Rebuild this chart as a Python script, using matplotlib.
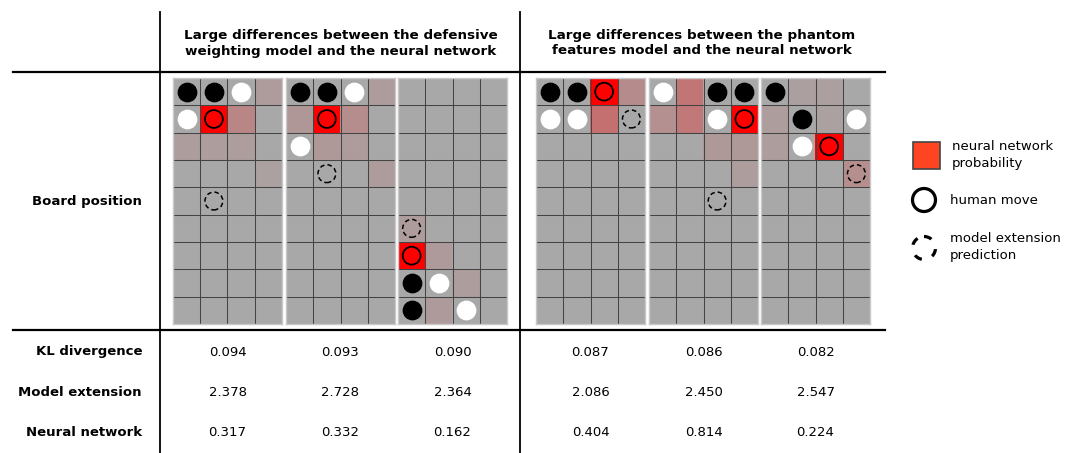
import numpy as np
import matplotlib
matplotlib.use('Agg')
from matplotlib import pyplot as plt
from matplotlib.patches import Rectangle, Circle

W, H = 1085, 453

# header texts for the two groups of boards
group_titles = ['Large differences between the defensive\nweighting model and the neural network',
                'Large differences between the phantom\nfeatures model and the neural network']
row_labels = ['KL divergence', 'Model extension', 'Neural network']

# table values, one column per board
kl_divergence = ['0.094', '0.093', '0.090', '0.087', '0.086', '0.082']
model_extension = ['2.378', '2.728', '2.364', '2.086', '2.450', '2.547']
neural_network = ['0.317', '0.332', '0.162', '0.404', '0.814', '0.224']

# stones on each board, 9 rows x 4 columns, top row first
stones = [
    ['BBW.', 'W...', '....', '....', '....', '....', '....', '....', '....'],
    ['BBW.', '....', 'W...', '....', '....', '....', '....', '....', '....'],
    ['....', '....', '....', '....', '....', '....', '....', 'BW..', 'B.W.'],
    ['BB..', 'WW..', '....', '....', '....', '....', '....', '....', '....'],
    ['W.BB', '..W.', '....', '....', '....', '....', '....', '....', '....'],
    ['B...', '.B.W', '.W..', '....', '....', '....', '....', '....', '....'],
]

# neural network probability shading (0 = grey, 1 = full red)
heat = [
    [[0, 0, 0, 0.07], [0, 1, 0.2, 0], [0.06, 0.06, 0.06, 0], [0, 0, 0, 0.04]],
    [[0, 0, 0, 0.07], [0.1, 1, 0.16, 0], [0, 0.09, 0.07, 0], [0, 0, 0, 0.07]],
    [[0, 0, 0, 0], [0, 0, 0, 0], [0, 0, 0, 0], [0, 0, 0, 0], [0, 0, 0, 0],
     [0.07, 0, 0, 0], [1, 0.08, 0, 0], [0, 0, 0.06, 0], [0, 0.08, 0, 0]],
    [[0, 0, 1, 0.17], [0, 0, 0.33, 0]],
    [[0, 0.3, 0, 0], [0.14, 0.28, 0, 1], [0, 0, 0.09, 0.09], [0, 0, 0, 0.06]],
    [[0, 0.05, 0.05, 0], [0.06, 0, 0.04, 0], [0.06, 0, 1, 0], [0, 0, 0, 0.15]],
]

# (row, col) of the human move and of the model extension prediction
human_move = [(1, 1), (1, 1), (6, 0), (0, 2), (1, 3), (2, 2)]
model_move = [(4, 1), (3, 1), (5, 0), (1, 3), (4, 2), (3, 3)]

board_left = [173, 286, 398, 536, 649, 761]
board_top, board_bottom, board_w = 78, 324, 109

grey = np.array([168, 168, 168]) / 255.0
red = np.array([255, 0, 0]) / 255.0

fig = plt.figure(figsize=(W / 100, H / 100), dpi=100)
ax = fig.add_axes([0, 0, 1, 1])
ax.set_xlim(0, W)
ax.set_ylim(H, 0)
ax.axis('off')

# table rules
ax.plot([13, 885], [72, 72], color='black', lw=1.6)
ax.plot([13, 885], [330, 330], color='black', lw=1.6)
ax.plot([160, 160], [12, H], color='black', lw=1.3)
ax.plot([520, 520], [12, H], color='black', lw=1.3)

font = 'DejaVu Sans'
ax.text(341, 43, group_titles[0], ha='center', va='center', fontsize=9.7,
        fontweight='bold', family=font, linespacing=1.3)
ax.text(702, 43, group_titles[1], ha='center', va='center', fontsize=9.7,
        fontweight='bold', family=font, linespacing=1.3)

ax.text(142, 201, 'Board position', ha='right', va='center', fontsize=9.5,
        fontweight='bold', family=font)
row_y = [352, 392, 432]
for label, y, vals in zip(row_labels, row_y, [kl_divergence, model_extension, neural_network]):
    ax.text(142, y, label, ha='right', va='center', fontsize=9.5, fontweight='bold', family=font)
    for i, v in enumerate(vals):
        ax.text(board_left[i] + board_w / 2, y, v, ha='center', va='center', fontsize=9.5, family=font)

# boards
for i in range(6):
    bax = fig.add_axes([board_left[i] / W, 1 - board_bottom / H,
                        board_w / W, (board_bottom - board_top) / H])
    p = np.zeros((9, 4))
    for r, row in enumerate(heat[i]):
        p[r, :] = row
    img = grey[None, None, :] * (1 - p[:, :, None]) + red[None, None, :] * p[:, :, None]
    bax.imshow(img, extent=(0, 4, 9, 0), aspect='auto', interpolation='nearest')
    for k in range(1, 4):
        bax.axvline(k, color='#444444', lw=0.75)
    for k in range(1, 9):
        bax.axhline(k, color='#444444', lw=0.75)
    for r in range(9):
        for c in range(4):
            s = stones[i][r][c]
            if s == 'B':
                bax.scatter(c + 0.5, r + 0.5, s=175, color='black', zorder=3)
            elif s == 'W':
                bax.scatter(c + 0.5, r + 0.5, s=175, color='white', zorder=3)
    hr, hc = human_move[i]
    bax.scatter(hc + 0.5, hr + 0.5, s=165, facecolor='none', edgecolor='black',
                linewidths=1.3, zorder=4)
    mr, mc = model_move[i]
    bax.scatter(mc + 0.5, mr + 0.5, s=165, facecolor='none', edgecolor='black',
                linewidths=1.1, linestyles=(0, (3, 2)), zorder=4)
    bax.set_xlim(0, 4)
    bax.set_ylim(9, 0)
    bax.set_xticks([])
    bax.set_yticks([])
    for sp in bax.spines.values():
        sp.set_color('#c8c8c8')
        sp.set_linewidth(1)

# legend
ax.add_patch(Rectangle((913, 142), 27, 27, facecolor='#ff4422', edgecolor='#444444', lw=1.2))
ax.text(952, 147, 'neural network', ha='left', va='center', fontsize=9.5, family=font)
ax.text(952, 164, 'probability', ha='left', va='center', fontsize=9.5, family=font)
ax.add_patch(Circle((924, 200), 11.5, facecolor='none', edgecolor='black', lw=2.3))
ax.text(950, 200, 'human move', ha='left', va='center', fontsize=9.5, family=font)
ax.add_patch(Circle((924, 248), 11.5, facecolor='none', edgecolor='black', lw=2.3,
                    linestyle=(0, (2.5, 3.5))))
ax.text(950, 239, 'model extension', ha='left', va='center', fontsize=9.5, family=font)
ax.text(950, 256, 'prediction', ha='left', va='center', fontsize=9.5, family=font)

plt.savefig('out.png', dpi=100)
